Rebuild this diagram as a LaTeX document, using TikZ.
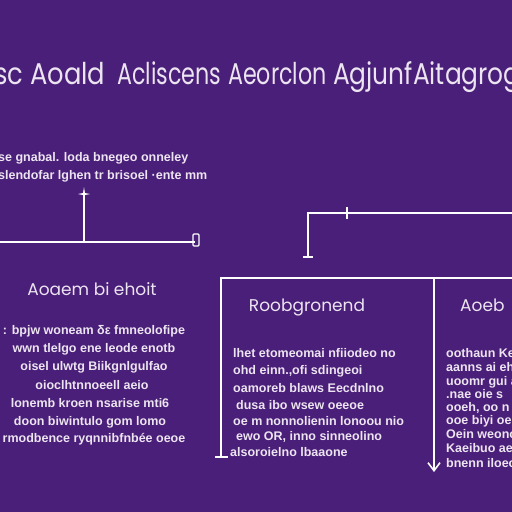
\documentclass[tikz,border=0pt]{standalone}
\usepackage{fontspec}
\setmainfont{Liberation Sans}
\newfontfamily\titlefont{Poppins}
\usetikzlibrary{arrows.meta}
\definecolor{bgpurple}{RGB}{74,31,121}
\definecolor{txt}{RGB}{236,228,240}
\newcommand{\ttlbox}[1]{\scalebox{0.74}[1]{#1}}
\tikzset{
  ttl/.style={text=txt,font=\titlefont\fontsize{30}{30}\selectfont,inner sep=0pt,anchor=base west},
  hd/.style={text=txt,font=\titlefont\fontsize{17}{17}\selectfont,inner sep=0pt,anchor=base},
  bodyc/.style={text=txt,font=\bfseries\fontsize{12.5}{12.5}\selectfont,inner sep=0pt,anchor=base},
  bodyl/.style={text=txt,font=\bfseries\fontsize{12.5}{12.5}\selectfont,inner sep=0pt,anchor=base west},
  wline/.style={draw=white,line width=1.6pt},
}
\begin{document}
\begin{tikzpicture}[x=1pt,y=-1pt]
\fill[bgpurple] (0,0) rectangle (512,512);
\useasboundingbox (0,0) rectangle (512,512);
% title
\node[ttl] (t1) at (-6,84) {\scalebox{0.86}[1]{sc Aoald}};
\node[ttl] (t2) at (117,84) {\ttlbox{Acliscens}};
\node[ttl] (t3) at (228,84) {\ttlbox{Aeorclon}};
\node[ttl] (t4) at (333,84) {\scalebox{0.83}[1]{AgjunfAitagrog}};
% intro lines
\node[bodyl] (i1) at (-2,161) {se gnabal. loda bnegeo onneley};
\node[bodyl] (i2) at (-2,179) {slendofar lghen tr brisoel ·ente mm};
% left connector
\coordinate (ls) at (84,194);
\coordinate (lj) at (84,242);
\coordinate (l0) at (0,242);
\coordinate (le) at (195,242);
\draw[wline] (ls) -- (lj);
\draw[wline] (l0) -- (le);
\fill[white] (84,187) -- (85,193) -- (90,194) -- (85,195) -- (84,201) -- (83,195) -- (78,194) -- (83,193) -- cycle;
\draw[white,line width=1.4pt,rounded corners=1pt] (193,234) rectangle (199,246);
% right connector
\coordinate (rt) at (512,213);
\coordinate (rc) at (308,213);
\coordinate (rb) at (308,258);
\draw[wline] (rt) -- (rc) -- (rb);
\draw[white,line width=2pt] (303,257) -- (313,257);
\draw[white,line width=2.2pt] (347,207) -- (347,219);
% box
\coordinate (bl) at (221,278);
\coordinate (br) at (512,278);
\coordinate (bb) at (221,457);
\coordinate (am) at (434,278);
\coordinate (ab) at (434,472);
\draw[wline] (br) -- (bl) -- (bb);
\draw[white,line width=2pt] (215,457) -- (228,457);
\draw[wline,-{Straight Barb[length=8pt,width=12pt]}] (am) -- (ab);
% left column
\node[hd] (h1) at (92,295) {Aoaem bi ehoit};
\node[bodyc] (a1) at (94,334) {: bpjw woneam δε fmneolofipe};
\node[bodyc] (a2) at (94,352) {wwn tlelgo ene leode enotb};
\node[bodyc] (a3) at (94,370) {oisel ulwtg Biikgnlgulfao};
\node[bodyc] (a4) at (92,389) {oioclhtnnoeell aeio};
\node[bodyc] (a5) at (90,407) {lonemb kroen nsarise mti6};
\node[bodyc] (a6) at (90,425) {doon biwintulo gom lomo};
\node[bodyc] (a7) at (94,442) {rmodbence ryqnnibfnbée oeoe};
% middle column
\node[hd] (h2) at (307,311) {Roobgronend};
\node[bodyl] (m1) at (233,357) {lhet etomeomai nfiiodeo no};
\node[bodyl] (m2) at (233,374) {ohd einn.,ofi sdingeoi};
\node[bodyl] (m3) at (233,392) {oamoreb blaws Eecdnlno};
\node[bodyl] (m4) at (236,409) {dusa ibo wsew oeeoe};
\node[bodyl] (m5) at (233,425) {oe m nonnolienin lonoou nio};
\node[bodyl] (m6) at (236,440) {ewo OR, inno sinneolino};
\node[bodyl] (m7) at (230,456) {alsoroielno lbaaone};
% right column
\node[hd,anchor=base west] (h3) at (460,311) {Aoeb};
\node[bodyl] (r1) at (446,357) {oothaun Keonn};
\node[bodyl] (r2) at (446,371) {aanns ai ehin};
\node[bodyl] (r3) at (446,385) {uoomr gui aen};
\node[bodyl] (r4) at (446,398) {.nae oie s};
\node[bodyl] (r5) at (446,411) {ooeh, oo n};
\node[bodyl] (r6) at (446,424) {ooe biyi oe};
\node[bodyl] (r7) at (446,438) {Oein weono};
\node[bodyl] (r8) at (446,452) {Kaeibuo ae};
\node[bodyl] (r9) at (446,467) {bnenn iloeo};
\end{tikzpicture}
\end{document}
